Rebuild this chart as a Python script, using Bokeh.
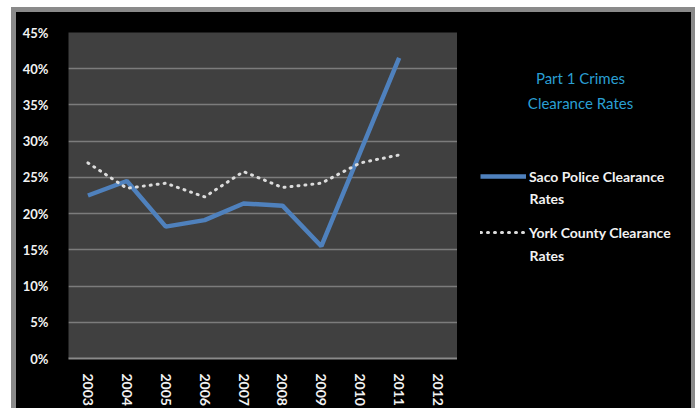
from bokeh.plotting import figure
from bokeh.layouts import row
from bokeh.models import Legend, LegendItem, Label, SingleIntervalTicker, NumeralTickFormatter, Range1d
from bokeh.embed import file_html
from bokeh.resources import INLINE

years = ["2003", "2004", "2005", "2006", "2007", "2008", "2009", "2010", "2011", "2012"]
saco_years = ["2003", "2004", "2005", "2006", "2007", "2008", "2009", "2010", "2011"]
saco_rates = [0.225, 0.245, 0.182, 0.191, 0.214, 0.211, 0.155, 0.285, 0.415]
york_years = ["2003", "2004", "2005", "2006", "2007", "2008", "2009", "2010", "2011"]
york_rates = [0.270, 0.235, 0.242, 0.223, 0.258, 0.236, 0.242, 0.270, 0.281]
series_names = ["Saco Police Clearance", "York County Clearance"]
title_lines = ["Part 1 Crimes", "Clearance Rates"]

SACO_COLOR = "#4f81bd"
YORK_COLOR = "#dcdcdc"
TEXT_COLOR = "#f2f2f2"

p = figure(width=441, height=396, x_range=years, y_range=(0, 0.45),
           output_backend="svg", toolbar_location=None,
           min_border_left=52, min_border_right=0, min_border_top=20, min_border_bottom=49)
p.border_fill_color = "black"
p.background_fill_color = "#404040"
p.outline_line_color = None

p.yaxis.ticker = SingleIntervalTicker(interval=0.05)
p.yaxis.formatter = NumeralTickFormatter(format="0%")
p.ygrid.grid_line_color = "#7c7c7c"
p.ygrid.grid_line_width = 1.5
p.xgrid.grid_line_color = None

for ax in (p.xaxis, p.yaxis):
    ax.axis_line_color = None
    ax.major_tick_line_color = None
    ax.minor_tick_line_color = None
    ax.major_label_text_color = TEXT_COLOR
    ax.major_label_text_font = "Lato"
    ax.major_label_text_font_style = "bold"
p.xaxis.axis_line_color = "#8a8a8a"
p.xaxis.axis_line_width = 2
p.yaxis.major_label_text_font_size = "13px"
p.yaxis.major_label_standoff = 14
p.xaxis.major_label_text_font_size = "14px"
p.xaxis.major_label_orientation = "vertical"
p.xaxis.major_label_standoff = 9

p.line(saco_years, saco_rates, line_color=SACO_COLOR, line_width=4.5)
p.line(york_years, york_rates, line_color=YORK_COLOR, line_width=3,
       line_dash="1 6", line_cap="round")

# legend panel: same frame height as the chart, ranges chosen so the proxy lines stay out of view
q = figure(width=234, height=396, x_range=Range1d(100, 101), y_range=Range1d(100, 101),
           x_axis_type=None, y_axis_type=None,
           output_backend="svg", toolbar_location=None,
           min_border_left=0, min_border_right=0, min_border_top=20, min_border_bottom=49)
q.border_fill_color = "black"
q.background_fill_color = "black"
q.outline_line_color = None
q.xgrid.grid_line_color = None
q.ygrid.grid_line_color = None
q.styles = {"background-color": "black"}
p.styles = {"background-color": "black"}

idx = list(range(len(saco_rates)))
s1 = q.line(x=idx, y=saco_rates, line_color=SACO_COLOR, line_width=4.5)
s2 = q.line(x=idx, y=york_rates, line_color=YORK_COLOR, line_width=3, line_dash="1 6", line_cap="round")

legend = Legend(items=[LegendItem(label=series_names[0], renderers=[s1]),
                       LegendItem(label=series_names[1], renderers=[s2])],
                location=(23, 116), padding=0, margin=0, spacing=36,
                glyph_width=46, glyph_height=20, label_height=20, label_standoff=3,
                border_line_alpha=0, background_fill_alpha=0,
                label_text_color=TEXT_COLOR, label_text_font="Lato",
                label_text_font_size="14px", label_text_font_style="bold")
q.add_layout(legend, "center")

for y in (160, 103):
    q.add_layout(Label(x=72, y=y, x_units="screen", y_units="screen", text="Rates",
                       text_color=TEXT_COLOR, text_font="Lato", text_font_size="14px",
                       text_font_style="bold", text_baseline="middle", text_align="left"))

for t, y in zip(title_lines, (281, 256)):
    q.add_layout(Label(x=123, y=y, x_units="screen", y_units="screen", text=t,
                       text_color="#2a9fd3", text_font="Lato", text_font_size="15px",
                       text_baseline="middle", text_align="center"))

layout = row(p, q, margin=(7, 0, 0, 11), spacing=0,
             styles={"border-top": "5px solid #8a8a8a", "border-left": "5px solid #8a8a8a",
                     "border-right": "4px solid #8a8a8a", "background-color": "black"})

open("out.html", "w").write(file_html(layout, INLINE))
